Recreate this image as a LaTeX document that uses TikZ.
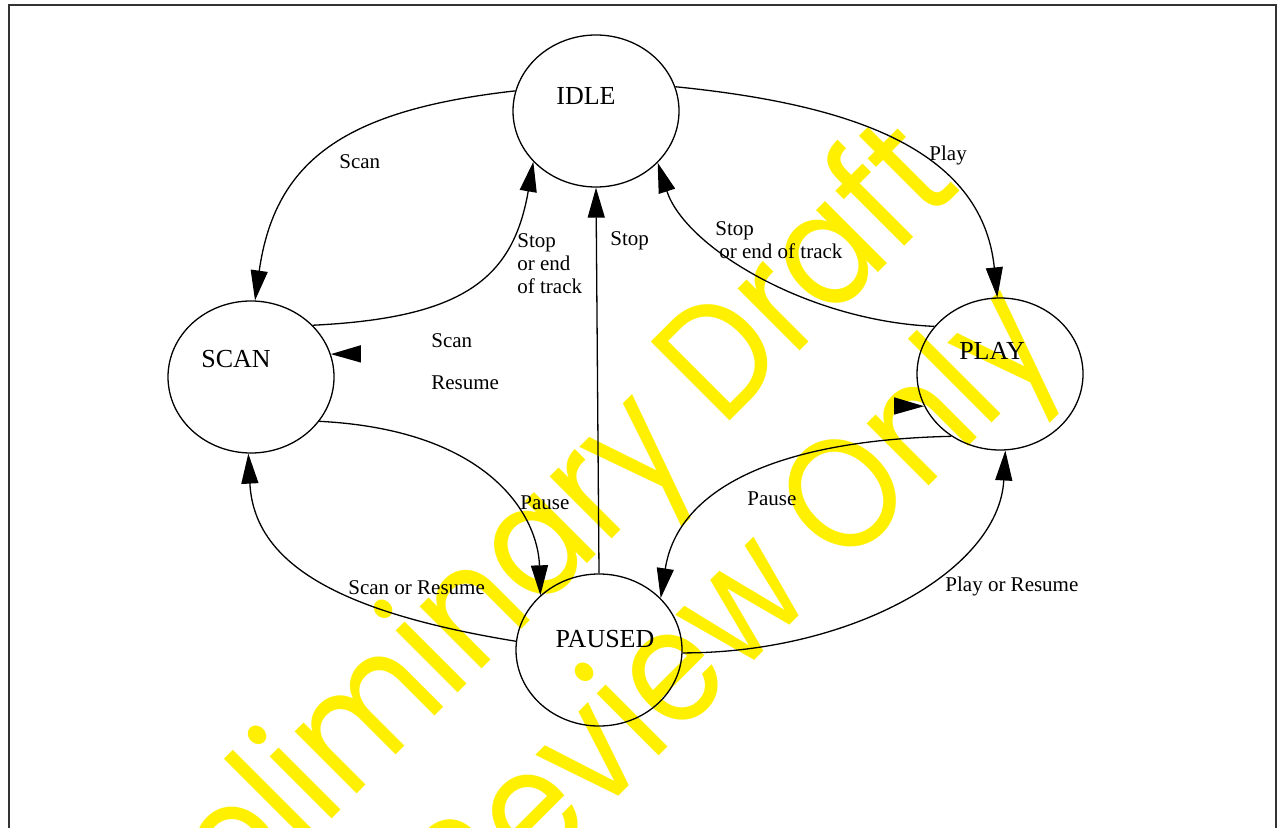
\documentclass[tikz,border=0pt]{standalone}
\usepackage{fontspec}
\setmainfont{Liberation Serif}
\newfontfamily\wmfont[FakeStretch=0.87]{Poppins}
\usetikzlibrary{arrows.meta,shapes.geometric}
\definecolor{wmyellow}{RGB}{255,240,0}
\definecolor{framegray}{RGB}{51,51,51}

\begin{document}
\begin{tikzpicture}[x=0.5pt,y=-0.5pt,
  state/.style={draw,ellipse,line width=0.65pt,minimum width=83pt,minimum height=76pt,inner sep=0pt},
  statename/.style={font=\fontsize{13}{15}\selectfont,inner sep=0pt,anchor=base},
  tlabel/.style={font=\fontsize{10.5}{11.5}\selectfont,inner sep=0pt,anchor=north west,align=left},
  trans/.style={line width=0.65pt,-{Triangle[length=15pt,width=8.5pt]}},
  watermark/.style={text=wmyellow,font=\wmfont\fontsize{80}{96}\selectfont,rotate=45,inner sep=0pt,anchor=base east}]
\useasboundingbox (0,0) rectangle (1278,828);
\clip (0,0) rectangle (1278,828);

% Watermark
\node[watermark] (wmDraft) at (964,187) {Preliminary Draft};
\node[watermark] (wmOnly) at (1064,351) {Review Only};

% Frame
\draw[framegray,line width=1pt] (9,840) -- (9,5) -- (1276,5) -- (1276,840);

% States
\node[state] (idle) at (596,111) {};
\node[state] (scan) at (251,377) {};
\node[state] (play) at (1000,374) {};
\node[state] (paused) at (599,650) {};
\node[statename] (idleText) at (586,105) {IDLE};
\node[statename] (scanText) at (236,367) {SCAN};
\node[statename] (playText) at (992,359) {PLAY};
\node[statename] (pausedText) at (605,647) {PAUSED};

% Transitions
\draw[trans] (idle.166) .. controls (345,110) and (275,160) .. (scan.87);
\draw[trans] (scan.40) .. controls (463,318) and (513,279) .. (idle.219);
\draw[trans] (idle.17) .. controls (847,104) and (982,147) .. (play.92);
\draw[trans] (play.144) .. controls (807,321) and (685,247) .. (idle.320);
\draw[trans] (paused.north) -- (idle.south);
\draw[trans] (scan.327) .. controls (491,430) and (538,517) .. (paused.137);
\draw[trans] (paused.174) .. controls (337,612) and (254,563) .. (scan.268);
\draw[trans] (play.232) .. controls (780,440) and (678,487) .. (paused.40);
\draw[trans] (paused.358) .. controls (852,653) and (999,570) .. (play.274);

% Loose arrowheads
\coordinate (scanTail) at (360.5,353.9);
\draw[trans] (scanTail) -- (scan.16);
\coordinate (playTail) at (895,406);
\draw[trans] (playTail) -- (play.203);

% Labels
\node[tlabel] (lblScanTop) at (339,154) {Scan};
\node[tlabel] (lblStopScan) at (517,233) {Stop\\or end\\of track};
\node[tlabel] (lblStopPaused) at (610,231) {Stop};
\node[tlabel] (lblPlay) at (929,146) {Play};
\node[tlabel] (lblStopPlay) at (715,221) {Stop\\\hspace{2pt}or end of track};
\node[tlabel] (lblScanMid) at (431,333) {Scan};
\node[tlabel] (lblResumeMid) at (431,375) {Resume};
\node[tlabel] (lblPauseScan) at (520,495) {Pause};
\node[tlabel] (lblPausePlay) at (747,491) {Pause};
\node[tlabel] (lblScanResume) at (348,580) {Scan or Resume};
\node[tlabel] (lblPlayResume) at (945,577) {Play or Resume};
\end{tikzpicture}
\end{document}
